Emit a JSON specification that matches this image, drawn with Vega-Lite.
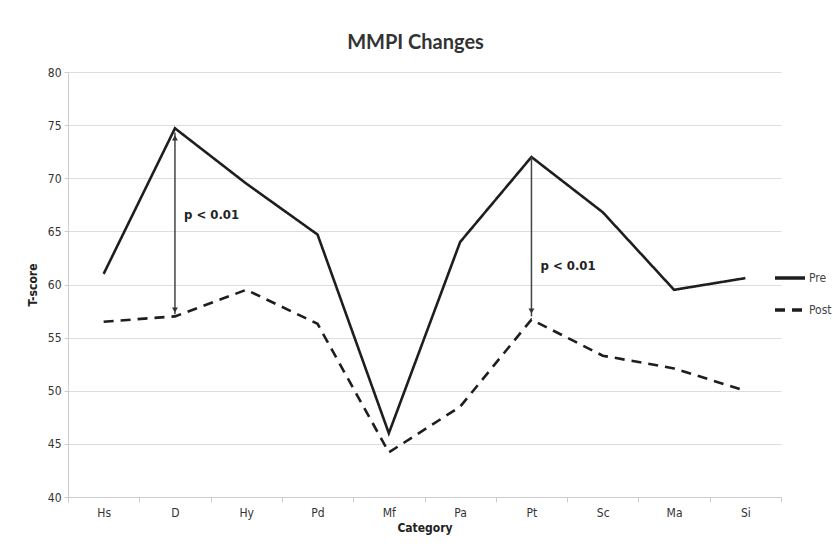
{
  "$schema": "https://vega.github.io/schema/vega-lite/v6.json",
  "autosize": {"type": "none"},
  "width": 713,
  "height": 425,
  "padding": {"left": 68, "top": 72, "right": 52, "bottom": 63},
  "background": "white",
  "title": {
    "text": "MMPI Changes",
    "font": "Lato",
    "fontSize": 20,
    "fontWeight": "bold",
    "color": "#333333",
    "offset": 13,
    "dx": -9
  },
  "datasets": {
    "scores": [
      {"Category": "Hs", "Series": "Pre", "T": 61.0},
      {"Category": "D", "Series": "Pre", "T": 74.7},
      {"Category": "Hy", "Series": "Pre", "T": 69.5},
      {"Category": "Pd", "Series": "Pre", "T": 64.7},
      {"Category": "Mf", "Series": "Pre", "T": 46.0},
      {"Category": "Pa", "Series": "Pre", "T": 64.0},
      {"Category": "Pt", "Series": "Pre", "T": 72.0},
      {"Category": "Sc", "Series": "Pre", "T": 66.8},
      {"Category": "Ma", "Series": "Pre", "T": 59.5},
      {"Category": "Si", "Series": "Pre", "T": 60.6},
      {"Category": "Hs", "Series": "Post", "T": 56.5},
      {"Category": "D", "Series": "Post", "T": 57.0},
      {"Category": "Hy", "Series": "Post", "T": 59.5},
      {"Category": "Pd", "Series": "Post", "T": 56.3},
      {"Category": "Mf", "Series": "Post", "T": 44.2},
      {"Category": "Pa", "Series": "Post", "T": 48.5},
      {"Category": "Pt", "Series": "Post", "T": 56.7},
      {"Category": "Sc", "Series": "Post", "T": 53.3},
      {"Category": "Ma", "Series": "Post", "T": 52.1},
      {"Category": "Si", "Series": "Post", "T": 50.0}
    ],
    "arrows": [
      {"Category": "D", "low": 57.2, "high": 74.3},
      {"Category": "Pt", "low": 57.0, "high": 72.0}
    ],
    "heads": [
      {"Category": "D", "T": 73.8, "dir": "up"},
      {"Category": "D", "T": 57.6, "dir": "down"},
      {"Category": "Pt", "T": 57.5, "dir": "down"}
    ],
    "labels": [
      {"Category": "D", "T": 66.5, "text": "p < 0.01"},
      {"Category": "Pt", "T": 61.7, "text": "p < 0.01"}
    ]
  },
  "encoding": {
    "x": {
      "field": "Category",
      "type": "nominal",
      "sort": ["Hs", "D", "Hy", "Pd", "Mf", "Pa", "Pt", "Sc", "Ma", "Si"],
      "scale": {"type": "band", "padding": 0, "domain": ["Hs", "D", "Hy", "Pd", "Mf", "Pa", "Pt", "Sc", "Ma", "Si"]},
      "axis": {
        "title": "Category",
        "labelAngle": 0,
        "tickBand": "extent",
        "tickSize": 5,
        "tickColor": "#cccccc",
        "domainColor": "#cccccc",
        "labelFont": "DejaVu Sans Condensed, Liberation Sans, sans-serif",
        "labelFontSize": 12,
        "labelColor": "#333333",
        "labelPadding": 5,
        "titleFont": "DejaVu Sans Condensed, Liberation Sans, sans-serif",
        "titleFontSize": 12,
        "titleFontWeight": "bold",
        "titleColor": "#222222",
        "titlePadding": 4,
        "grid": false
      }
    }
  },
  "layer": [
    {
      "data": {"name": "scores"},
      "mark": {"type": "line", "color": "#1e1e1e", "strokeWidth": 2.6, "strokeJoin": "miter"},
      "encoding": {
        "y": {
          "field": "T",
          "type": "quantitative",
          "scale": {"domain": [40, 80], "nice": false, "zero": false},
          "axis": {
            "title": "T-score",
            "values": [40, 45, 50, 55, 60, 65, 70, 75, 80],
            "gridColor": "#dddddd",
            "gridWidth": 1.2,
            "domainColor": "#cccccc",
            "tickColor": "#cccccc",
            "tickSize": 4,
            "labelFont": "DejaVu Sans Condensed, Liberation Sans, sans-serif",
            "labelFontSize": 12,
            "labelColor": "#333333",
            "labelPadding": 3,
            "titleFont": "DejaVu Sans Condensed, Liberation Sans, sans-serif",
            "titleFontSize": 12,
            "titleFontWeight": "bold",
            "titleColor": "#222222",
            "titlePadding": 8
          }
        },
        "strokeDash": {
          "field": "Series",
          "type": "nominal",
          "scale": {"domain": ["Pre", "Post"], "range": [[1, 0], [10, 7]]},
          "legend": {
            "title": null,
            "orient": "none",
            "legendX": 705,
            "legendY": 189,
            "symbolType": "stroke",
            "symbolSize": 900,
            "symbolStrokeWidth": 3.5,
            "symbolStrokeColor": "#1e1e1e",
            "rowPadding": 8,
            "labelFont": "DejaVu Sans Condensed, Liberation Sans, sans-serif",
            "labelFontSize": 12,
            "labelColor": "#444444",
            "labelOffset": 2
          }
        }
      }
    },
    {
      "data": {"name": "arrows"},
      "mark": {"type": "rule", "color": "#444444", "strokeWidth": 1.5},
      "encoding": {
        "y": {"field": "low", "type": "quantitative"},
        "y2": {"field": "high"}
      }
    },
    {
      "data": {"name": "heads"},
      "mark": {"type": "point", "filled": true, "color": "#333333", "opacity": 1, "size": 35},
      "encoding": {
        "y": {"field": "T", "type": "quantitative"},
        "shape": {
          "field": "dir",
          "type": "nominal",
          "scale": {"domain": ["up", "down"], "range": ["triangle-up", "triangle-down"]},
          "legend": null
        }
      }
    },
    {
      "data": {"name": "labels"},
      "mark": {
        "type": "text",
        "align": "left",
        "baseline": "middle",
        "dx": 9,
        "font": "DejaVu Sans Condensed, Liberation Sans, sans-serif",
        "fontSize": 13,
        "fontWeight": "bold",
        "color": "#222222"
      },
      "encoding": {
        "y": {"field": "T", "type": "quantitative"},
        "text": {"field": "text"}
      }
    }
  ],
  "config": {
    "view": {"stroke": null}
  }
}
